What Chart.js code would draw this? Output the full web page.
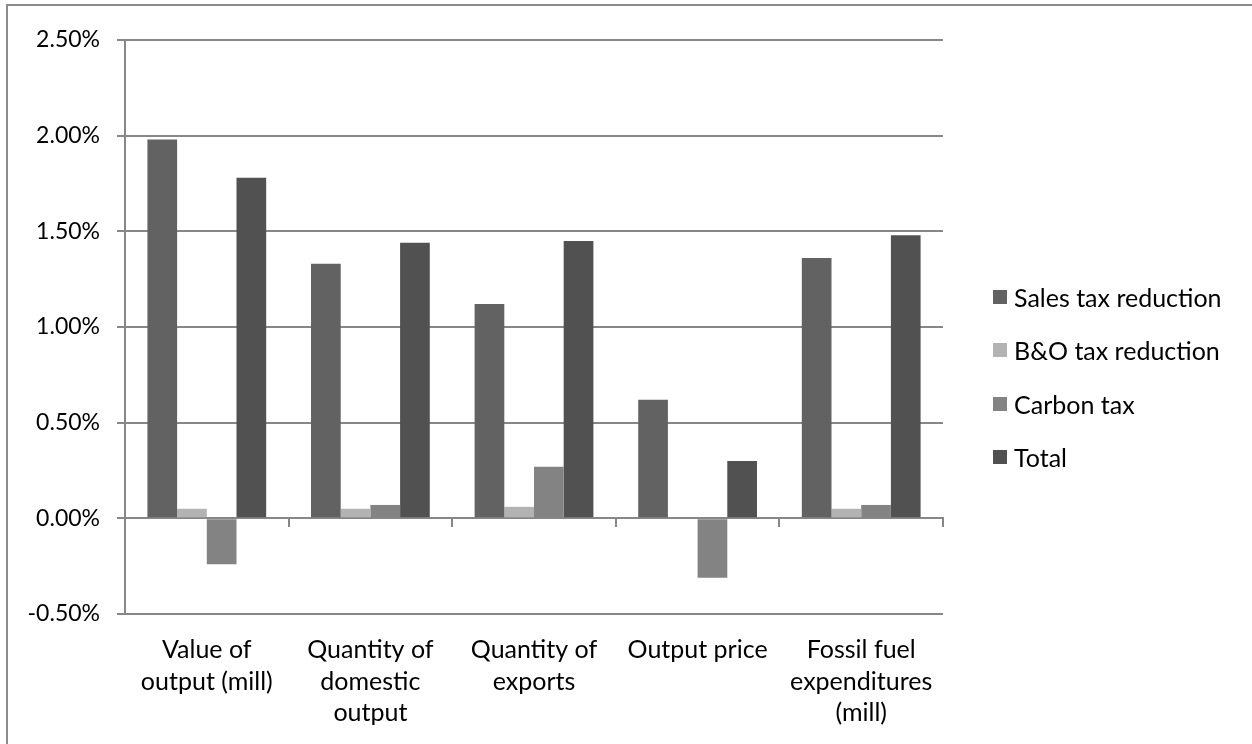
<!DOCTYPE html>
<html>
<head>
<meta charset="utf-8">
<script src="https://cdn.jsdelivr.net/npm/chart.js@4"></script>
<style>
  html, body { margin: 0; padding: 0; background: #fff; }
  #wrap { position: relative; width: 1252px; height: 744px; overflow: hidden; }
  #frame {
    position: absolute; left: 6px; top: 4px; right: -10px; bottom: -10px;
    border-left: 2px solid #8c8c8c; border-top: 2px solid #8c8c8c;
  }
  #legend {
    position: absolute; left: 993px; top: 282px;
    font-family: Lato, 'Open Sans', sans-serif; font-size: 25px; color: #000;
  }
  .item { display: flex; align-items: center; height: 29px; margin-bottom: 24.5px; }
  .swatch { width: 14px; height: 14px; margin-right: 7px; }
</style>
</head>
<body>
<div id="wrap">
  <canvas id="chart" width="1252" height="744"></canvas>
  <div id="frame"></div>
  <div id="legend"></div>
</div>
<script>
/* ─── Data ───────────────────────────────────────────────── */
const CATEGORIES = [
  ['Value of', 'output (mill)'],
  ['Quantity of', 'domestic', 'output'],
  ['Quantity of', 'exports'],
  ['Output price'],
  ['Fossil fuel', 'expenditures', '(mill)'],
];
const SERIES_NAMES = ['Sales tax reduction', 'B&O tax reduction', 'Carbon tax', 'Total'];
const SALES_TAX  = [1.98, 1.33, 1.12, 0.62, 1.36];
const BO_TAX     = [0.05, 0.05, 0.06, 0.00, 0.05];
const CARBON_TAX = [-0.24, 0.07, 0.27, -0.31, 0.07];
const TOTAL      = [1.78, 1.44, 1.45, 0.30, 1.48];
const SERIES_COLORS = ['#626262', '#b3b3b3', '#838383', '#515151'];
const Y_MIN = -0.5, Y_MAX = 2.5, Y_STEP = 0.5;

/* ─── Style ──────────────────────────────────────────────── */
const FONT   = { family: "Lato, 'Open Sans', sans-serif", size: 23 };
const XFONT  = { family: "Lato, 'Open Sans', sans-serif", size: 25, lineHeight: 1.27 };
const GRID   = '#878787';

const seriesValues = [SALES_TAX, BO_TAX, CARBON_TAX, TOTAL];

new Chart(document.getElementById('chart').getContext('2d'), {
  type: 'bar',
  data: {
    labels: CATEGORIES,
    datasets: SERIES_NAMES.map((name, i) => ({
      label: name,
      data: seriesValues[i],
      backgroundColor: SERIES_COLORS[i],
      categoryPercentage: 0.726,
      barPercentage: 1,
      xAxisID: 'x',
    })),
  },
  options: {
    responsive: false,
    animation: false,
    layout: { padding: { top: 40, right: 309, bottom: 0, left: 0 } },
    plugins: { legend: { display: false }, tooltip: { enabled: false } },
    scales: {
      x: {
        position: 'bottom',
        grid: { display: false },
        border: { display: false },
        ticks: { color: '#000', font: XFONT, padding: 12, maxRotation: 0, autoSkip: false },
        afterFit: s => { s.height = 130; },
      },
      x0: {
        type: 'category',
        labels: CATEGORIES,
        position: { y: 0 },
        grid: { drawOnChartArea: false, drawTicks: true, tickLength: 8, color: GRID, lineWidth: 2 },
        border: { display: true, color: GRID, width: 2 },
        ticks: { display: false },
      },
      y: {
        min: Y_MIN, max: Y_MAX,
        ticks: {
          stepSize: Y_STEP,
          color: '#000',
          font: FONT,
          padding: 17,
          callback: v => v.toFixed(2) + '%',
        },
        grid: { color: GRID, lineWidth: 2, tickLength: 8 },
        border: { display: true, color: GRID, width: 2 },
        afterFit: s => { s.width = 125; },
      },
    },
  },
});

/* ─── Legend ─────────────────────────────────────────────── */
const legendEl = document.getElementById('legend');
SERIES_NAMES.forEach((name, i) => {
  const row = document.createElement('div');
  row.className = 'item';
  const sw = document.createElement('span');
  sw.className = 'swatch';
  sw.style.background = SERIES_COLORS[i];
  const tx = document.createElement('span');
  tx.textContent = name;
  row.appendChild(sw);
  row.appendChild(tx);
  legendEl.appendChild(row);
});
</script>
</body>
</html>
